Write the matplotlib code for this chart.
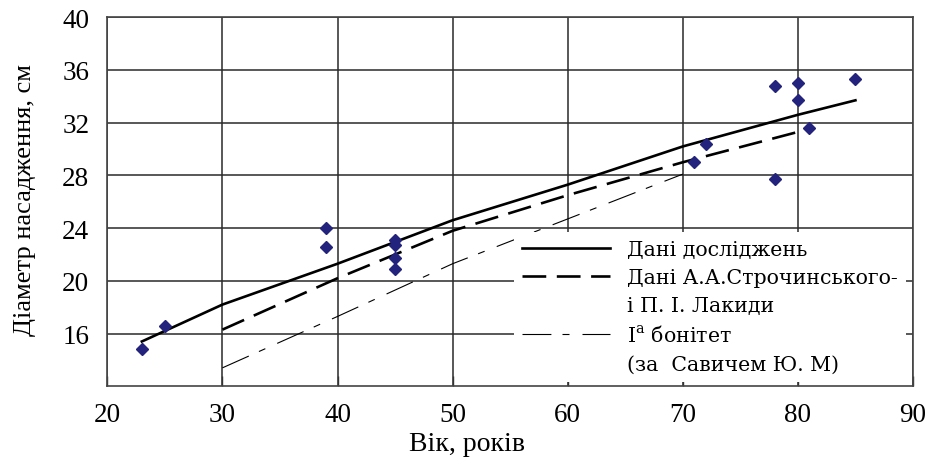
import matplotlib
matplotlib.use("Agg")
import matplotlib.pyplot as plt
from matplotlib.lines import Line2D

# measured stand data (age, diameter)
obs_age = [23, 25, 39, 39, 45, 45, 45, 45, 71, 72, 78, 78, 80, 80, 81, 85]
obs_diam = [14.8, 16.6, 24.0, 22.6, 23.1, 22.7, 21.7, 20.9,
            29.0, 30.4, 34.8, 27.7, 35.0, 33.7, 31.6, 35.3]

# fitted curve of own data
fit_age = [23, 30, 40, 50, 60, 70, 80, 85]
fit_diam = [15.4, 18.2, 21.3, 24.6, 27.3, 30.2, 32.6, 33.7]

# Strochinsky & Lakyda
str_age = [30, 40, 50, 60, 70, 80]
str_diam = [16.3, 20.2, 23.8, 26.5, 29.0, 31.3]

# site class Ia (Savich)
sav_age = [30, 40, 50, 60, 70]
sav_diam = [13.4, 17.3, 21.3, 24.7, 28.1]

xticks = [20, 30, 40, 50, 60, 70, 80, 90]
yticks = [16, 20, 24, 28, 32, 36, 40]

plt.rcParams['font.family'] = ['Liberation Serif', 'DejaVu Serif']
plt.rcParams['mathtext.fontset'] = 'custom'
plt.rcParams['mathtext.rm'] = 'DejaVu Serif'

fig = plt.figure(figsize=(9.3, 4.64), dpi=100)
ax = fig.add_axes([0.1154, 0.1653, 0.8663, 0.7953])

ax.set_xlim(20, 90)
ax.set_ylim(12, 40)
ax.set_xticks(xticks)
ax.set_yticks(yticks)
ax.grid(True, color='#2a2a2a', lw=1.1)
ax.set_axisbelow(True)
for s in ax.spines.values():
    s.set_color('#444444')
    s.set_linewidth(1.2)
ax.tick_params(axis='x', direction='in', length=7, width=1, color='#333333',
               labelsize=19.5, pad=11)
ax.tick_params(axis='y', length=0, labelsize=19.5, pad=13)

dash_d = (9, 4)
dash_dd = (26, 10, 6.3, 11.7)
ax.plot(fit_age, fit_diam, color='black', lw=1.9, zorder=3)
ax.plot(str_age, str_diam, color='black', lw=1.9, dashes=dash_d, zorder=3)
ax.plot(sav_age, sav_diam, color='black', lw=0.8, dashes=dash_dd, zorder=3)
ax.plot(obs_age, obs_diam, ls='none', marker='D', ms=6.5, color='#23237d', zorder=4)

ax.set_xlabel('Вік, років', fontsize=20)
ax.xaxis.set_label_coords(0.447, -0.122)
ax.set_ylabel('Діаметр насадження, см', fontsize=19)
ax.yaxis.set_label_coords(-0.088, 0.507)

blank = Line2D([], [], color='none')
handles = [Line2D([], [], color='black', lw=1.9),
           Line2D([], [], color='black', lw=1.9, dashes=dash_d),
           blank,
           Line2D([], [], color='black', lw=0.8, dashes=dash_dd),
           blank]
labels = ['Дані досліджень', 'Дані А.А.Строчинського-', 'і П. І. Лакиди',
          'I$^{\\mathrm{a}}$ бонітет', '(за  Савичем Ю. М)']
leg = ax.legend(handles, labels, loc='lower left', bbox_to_anchor=(0.505, 0.013),
                borderaxespad=0,
                prop={'family': 'DejaVu Serif', 'size': 14.8}, handlelength=4.27,
                handletextpad=0.82, labelspacing=0.44, borderpad=0.4,
                frameon=True, fancybox=False, framealpha=1, edgecolor='none',
                facecolor='white')
leg.set_zorder(5)

fig.savefig('out.png', dpi=100)
